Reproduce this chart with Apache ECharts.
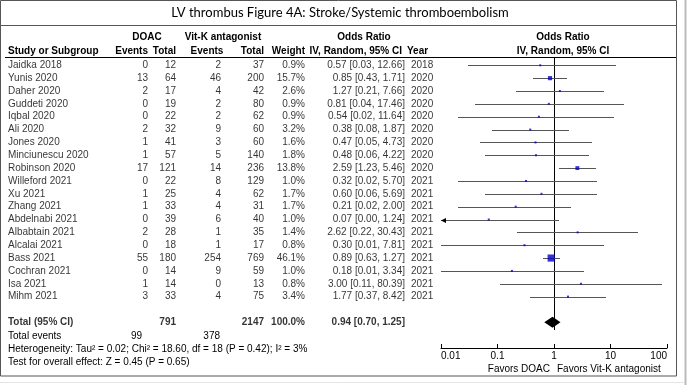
<!DOCTYPE html>
<html><head><meta charset="utf-8">
<script src="https://cdn.jsdelivr.net/npm/echarts@6/dist/echarts.min.js"></script>
<style>html,body{margin:0;padding:0;background:#fff}#c{width:688px;height:385px}</style>
</head><body><div id="c"></div>
<script>
const studies = ['Jaidka 2018','Yunis 2020','Daher 2020','Guddeti 2020','Iqbal 2020','Ali 2020','Jones 2020','Minciunescu 2020','Robinson 2020','Willeford 2021','Xu 2021','Zhang 2021','Abdelnabi 2021','Albabtain 2021','Alcalai 2021','Bass 2021','Cochran 2021','Isa 2021','Mihm 2021'];
const doacEvents = [0,13,2,0,0,2,1,1,17,0,1,1,0,2,0,55,0,1,3];
const doacTotal  = [12,64,17,19,22,32,41,57,121,22,25,33,39,28,18,180,14,14,33];
const vkaEvents  = [2,46,4,2,2,9,3,5,14,8,4,4,6,1,1,254,9,0,4];
const vkaTotal   = [37,200,42,80,62,60,60,140,236,129,62,31,40,35,17,769,59,13,75];
const weights    = [0.9,15.7,2.6,0.9,0.9,3.2,1.6,1.8,13.8,1.0,1.7,1.7,1.0,1.4,0.8,46.1,1.0,0.8,3.4];
const oddsRatio  = [0.57,0.85,1.27,0.81,0.54,0.38,0.47,0.48,2.59,0.32,0.60,0.21,0.07,2.62,0.30,0.89,0.18,3.00,1.77];
const ciLow      = [0.03,0.43,0.21,0.04,0.02,0.08,0.05,0.06,1.23,0.02,0.06,0.02,0.00,0.22,0.01,0.63,0.01,0.11,0.37];
const ciHigh     = [12.66,1.71,7.66,17.46,11.64,1.87,4.73,4.22,5.46,5.70,5.69,2.00,1.24,30.43,7.81,1.27,3.34,80.39,8.42];
const years      = [2018,2020,2020,2020,2020,2020,2020,2020,2020,2021,2021,2021,2021,2021,2021,2021,2021,2021,2021];
const totalDoac = 791, totalVka = 2147, totalWeight = '100.0%';
const pooled = [0.94, 0.70, 1.25];
const totalEvents = [99, 378];
const heterogeneity = 'Heterogeneity: Tau\u00b2 = 0.02; Chi\u00b2 = 18.60, df = 18 (P = 0.42); I\u00b2 = 3%';
const overallTest = 'Test for overall effect: Z = 0.45 (P = 0.65)';
const tickLabels = ['0.01','0.1','1','10','100'];

const ROW0 = 65.3, ROWH = 12.85, TOTAL_ROW = 20;
const yMin = -ROW0/ROWH, yMax0 = (385-ROW0)/ROWH, yMax1 = (348-ROW0)/ROWH;
const FONT = '"Liberation Sans", Arial, sans-serif';
const FS = 10;
const f2 = v => v.toFixed(2);

function col(x, texts, align, bold, rows) {
  return {type:'scatter', xAxisIndex:0, yAxisIndex:0, symbolSize:1, silent:true,
    itemStyle:{color:'rgba(0,0,0,0)'},
    data: texts.map((t,i)=>({value:[x, rows ? rows[i] : i], name:String(t)})),
    label:{show:true, position:'inside', formatter:p=>p.name, align:align, verticalAlign:'middle',
      color:'#000', fontSize:FS, fontFamily:FONT, fontWeight: bold ? 'bold' : 'normal'}};
}
const T = TOTAL_ROW;
const series = [
  col(8, studies, 'left'),
  col(148, doacEvents, 'right'),
  col(176, doacTotal, 'right'),
  col(221, vkaEvents, 'right'),
  col(264, vkaTotal, 'right'),
  col(305, weights.map(w=>w.toFixed(1)+'%'), 'right'),
  col(405, oddsRatio.map((o,i)=>f2(o)+' ['+f2(ciLow[i])+', '+f2(ciHigh[i])+']'), 'right'),
  col(411, years, 'left'),
  col(8, ['Total (95% CI)'], 'left', true, [T]),
  col(176, [totalDoac], 'right', true, [T]),
  col(264, [totalVka], 'right', true, [T]),
  col(305, [totalWeight], 'right', true, [T]),
  col(405, [f2(pooled[0])+' ['+f2(pooled[1])+', '+f2(pooled[2])+']'], 'right', true, [T]),
  // null line
  {type:'custom', xAxisIndex:1, yAxisIndex:1, silent:true, data:[[1]],
    encode:{x:0},
    renderItem:(params, api)=>{
      const a = api.coord([api.value(0), -0.57]), b = api.coord([api.value(0), 20.6]);
      const x = Math.round(a[0]) + 0.5;
      return {type:'line', shape:{x1:x, y1:a[1], x2:x, y2:b[1]}, style:{stroke:'#000', lineWidth:1}};
    }},
  // CI lines
  {type:'custom', xAxisIndex:1, yAxisIndex:1, silent:true,
    data: studies.map((s,i)=>[i, ciLow[i], ciHigh[i], oddsRatio[i]]),
    encode:{x:3, y:0},
    renderItem:(params, api)=>{
      const i = api.value(0), l = api.value(1), h = api.value(2);
      const xmin = 0.01, xmax = 100;
      const p1 = api.coord([Math.max(l, xmin), i]);
      const p2 = api.coord([Math.min(h, xmax), i]);
      const x1 = Math.round(p1[0]), x2 = Math.round(p2[0]), y = Math.round(p1[1]) + 0.5;
      const ch = [{type:'line', shape:{x1:x1, y1:y, x2:x2, y2:y}, style:{stroke:'#555', lineWidth:1}}];
      if (l < xmin) ch.push({type:'polygon', shape:{points:[[x1, y],[x1+5, y-2.5],[x1+5, y+2.5]]}, style:{fill:'#000'}});
      return {type:'group', children:ch};
    }},
  // squares
  {type:'scatter', xAxisIndex:1, yAxisIndex:1, silent:true, symbol:'rect',
    data: studies.map((s,i)=>[oddsRatio[i], i]),
    symbolSize:(v, p)=>Math.max(2, Math.sqrt(weights[p.dataIndex])*1.05),
    itemStyle:{color:'#0000c8'}},
  // diamond
  {type:'custom', xAxisIndex:1, yAxisIndex:1, silent:true,
    data:[[pooled[0], pooled[1], pooled[2], T]],
    encode:{x:0, y:3},
    renderItem:(params, api)=>{
      const c = api.coord([api.value(0), api.value(3)]);
      const l = api.coord([api.value(1), api.value(3)]);
      const r = api.coord([api.value(2), api.value(3)]);
      return {type:'polygon', shape:{points:[[l[0]-1, c[1]],[c[0], c[1]-5.5],[r[0]+1, c[1]],[c[0], c[1]+5.5]]}, style:{fill:'#000'}};
    }}
];

const txt = (x, y, s, opts={}) => ({type:'text', x:x, y:y, silent:true,
  style:Object.assign({text:s, fill:'#000', font:(opts.bold?'bold ':'')+(opts.size||FS)+'px '+(opts.family||FONT),
    textAlign:opts.align||'left', textVerticalAlign:'middle'}, opts.style||{})});
const line = (x1,y1,x2,y2,stroke,w) => ({type:'line', silent:true, shape:{x1,y1,x2,y2}, style:{stroke:stroke||'#555', lineWidth:w||1}});

const graphic = [
  {type:'rect', silent:true, shape:{x:0.5, y:0.5, width:676, height:25}, style:{fill:'none', stroke:'#555', lineWidth:1}},
  {type:'rect', silent:true, shape:{x:0.5, y:25.5, width:676, height:350.5}, style:{fill:'none', stroke:'#555', lineWidth:1}},
  line(685.5, 0, 685.5, 385, '#bbb', 2),
  line(0, 382.5, 685, 382.5, '#e4e4e4', 1),
  txt(340, 13, 'LV thrombus Figure 4A: Stroke/Systemic thromboembolism', {align:'center', size:13, family:'Lato, "Open Sans", sans-serif'}),
  txt(147, 37, 'DOAC', {align:'center', bold:true}),
  txt(223, 37, 'Vit-K antagonist', {align:'center', bold:true}),
  txt(364, 37, 'Odds Ratio', {align:'center', bold:true}),
  txt(563, 37, 'Odds Ratio', {align:'center', bold:true}),
  txt(8, 51.5, 'Study or Subgroup', {bold:true}),
  txt(148, 51.5, 'Events', {align:'right', bold:true}),
  txt(176, 51.5, 'Total', {align:'right', bold:true}),
  txt(207, 51.5, 'Events', {align:'center', bold:true}),
  txt(264, 51.5, 'Total', {align:'right', bold:true}),
  txt(305, 51.5, 'Weight', {align:'right', bold:true}),
  txt(402, 51.5, 'IV, Random, 95% CI', {align:'right', bold:true}),
  txt(407, 51.5, 'Year', {bold:true}),
  txt(563, 51.5, 'IV, Random, 95% CI', {align:'center', bold:true}),
  line(5, 57.5, 676, 57.5, '#000', 1),
  txt(8, 336, 'Total events'),
  txt(142, 336, String(totalEvents[0]), {align:'right'}),
  txt(220, 336, String(totalEvents[1]), {align:'right'}),
  txt(8, 349, heterogeneity),
  txt(8, 362, overallTest),
  txt(550, 369, 'Favors DOAC', {align:'right'}),
  txt(557, 369, 'Favors Vit-K antagonist')
];

const chart = echarts.init(document.getElementById('c'), null, {renderer:'canvas'});
chart.setOption({
  animation:false,
  grid:[{left:0, top:0, width:688, height:385, containLabel:false},
        {left:441, top:0, width:226, height:348, containLabel:false}],
  xAxis:[{type:'value', gridIndex:0, min:0, max:688, show:false},
    {type:'log', gridIndex:1, logBase:10, min:0.01, max:100, position:'bottom',
      axisLine:{show:true, onZero:false, lineStyle:{color:'#000', width:1}},
      axisTick:{show:true, inside:true, length:4, lineStyle:{color:'#000'}},
      axisLabel:{show:true, margin:3, fontSize:FS, fontFamily:FONT, color:'#000',
        alignMinLabel:'left', alignMaxLabel:'right',
        formatter:v=>tickLabels[Math.round(Math.log10(v))+2]},
      splitLine:{show:false}, minorTick:{show:false}}],
  yAxis:[{type:'value', gridIndex:0, inverse:true, min:yMin, max:yMax0, show:false},
    {type:'value', gridIndex:1, inverse:true, min:yMin, max:yMax1, show:false}],
  series:series,
  graphic:graphic
});
</script></body></html>
